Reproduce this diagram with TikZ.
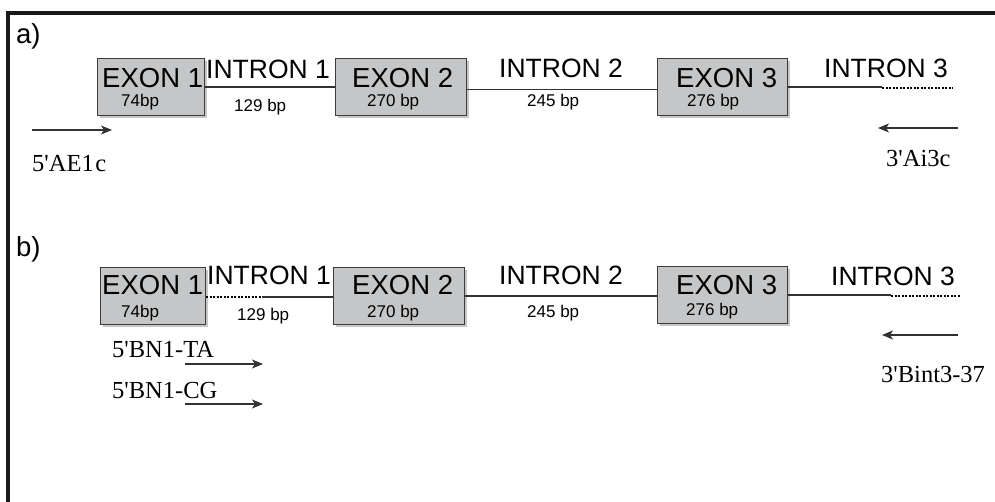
\documentclass[tikz,border=0pt]{standalone}
\usepackage{fontspec}
\setmainfont{Liberation Serif}
\newfontfamily\arialfont{Liberation Sans}
\usetikzlibrary{arrows.meta,shadows}
\definecolor{exonfill}{RGB}{196,198,200}
\definecolor{exonedge}{RGB}{60,60,60}
\definecolor{linegray}{RGB}{50,50,50}
\begin{document}
\begin{tikzpicture}[x=1pt,y=-1pt,
  exonbox/.style={draw=exonedge, fill=exonfill, line width=1.1pt, minimum width=#1, minimum height=57pt,
    anchor=north west, inner sep=0pt, general shadow={fill=black!22, shadow xshift=2pt, shadow yshift=-2pt}},
  bigtxt/.style={font=\arialfont\fontsize{27.5}{30}\selectfont, inner sep=0pt, anchor=base west},
  midtxt/.style={font=\arialfont\fontsize{26.5}{30}\selectfont, inner sep=0pt, anchor=base west},
  smalltxt/.style={font=\arialfont\fontsize{17}{18}\selectfont, inner sep=0pt, anchor=base west},
  primer/.style={font=\fontsize{24.5}{26}\selectfont, inner sep=0pt, anchor=base west},
  intron/.style={draw=linegray, line width=1.2pt},
  dotline/.style={draw=black, line width=2.6pt, dash pattern=on 2.2pt off 1.3pt},
  primerarrow/.style={draw=linegray, line width=1.4pt, -{Stealth[length=11pt,width=9pt,inset=3pt]}},
  frame/.style={draw=black!90, line width=4pt, line join=miter}
]
\useasboundingbox (0,0) rectangle (995,502);

% frame
\coordinate (fr1) at (995,13);
\coordinate (fr2) at (8,13);
\coordinate (fr3) at (8,502);
\draw[frame] (fr1) -- (fr2) -- (fr3);

% ---------------- panel a ----------------
\node[bigtxt] (alab) at (16,44) {a)};

\node[exonbox=107pt] (aE1) at (97,58) {};
\node[exonbox=131pt] (aE2) at (335,58) {};
\node[exonbox=130pt] (aE3) at (657,58) {};

\node[bigtxt] (aE1t) at (102,88) {EXON 1};
\node[bigtxt] (aE2t) at (352,88) {EXON 2};
\node[bigtxt] (aE3t) at (676,88) {EXON 3};
\node[smalltxt] (aE1b) at (121,107) {74bp};
\node[smalltxt] (aE2b) at (367,107) {270 bp};
\node[smalltxt] (aE3b) at (687,107) {276 bp};

\node[midtxt] (aI1t) at (206,79) {INTRON 1};
\node[smalltxt] (aI1b) at (234,112) {129 bp};
\node[midtxt] (aI2t) at (499,78) {INTRON 2};
\node[smalltxt] (aI2b) at (527,107) {245 bp};
\node[midtxt] (aI3t) at (824,78) {INTRON 3};

\coordinate (a3m) at (882,86);
\coordinate (a3d1) at (882,88);
\coordinate (a3d2) at (953,88);
\draw[intron] (aE1.east) -- (aE2.west);
\draw[intron] ([yshift=-2.5pt]aE2.east) -- ([yshift=-2.5pt]aE3.west);
\draw[intron] (aE3.east) -- (aE3.east -| a3m);
\draw[dotline] (a3d1) -- (a3d2);

\coordinate (aP1s) at (32,130);
\coordinate (aP1e) at (112,130);
\coordinate (aP2s) at (958,128);
\coordinate (aP2e) at (878,128);
\draw[primerarrow] (aP1s) -- (aP1e);
\draw[primerarrow] (aP2s) -- (aP2e);
\node[primer] (aP1t) at (32,172) {5\textquotesingle AE1\kern1.5pt c};
\node[primer] (aP2t) at (886,167) {3\textquotesingle Ai3c};

% ---------------- panel b ----------------
\node[bigtxt] (blab) at (16,257) {b)};

\node[exonbox=105pt] (bE1) at (100,267) {};
\node[exonbox=131pt] (bE2) at (333,267) {};
\node[exonbox=130pt] (bE3) at (657,266) {};

\node[bigtxt] (bE1t) at (102,295) {EXON 1};
\node[bigtxt] (bE2t) at (352,295) {EXON 2};
\node[bigtxt] (bE3t) at (676,295) {EXON 3};
\node[smalltxt] (bE1b) at (121,317) {74bp};
\node[smalltxt] (bE2b) at (367,317) {270 bp};
\node[smalltxt] (bE3b) at (686,316) {276 bp};

\node[midtxt] (bI1t) at (207,285) {INTRON 1};
\node[smalltxt] (bI1b) at (237,320) {129 bp};
\node[midtxt] (bI2t) at (499,285) {INTRON 2};
\node[smalltxt] (bI2b) at (527,317) {245 bp};
\node[midtxt] (bI3t) at (831,286) {INTRON 3};

\coordinate (b1m) at (262,297);
\coordinate (b3m) at (891,293);
\coordinate (b3d1) at (891,296);
\coordinate (b3d2) at (960,296);
\draw[dotline] (bE1.east |- b1m) -- (b1m);
\draw[intron] (b1m) -- (bE2.west |- b1m);
\draw[intron] (bE2.east) -- (bE3.west |- bE2.east);
\draw[intron] (bE3.east) -- (bE3.east -| b3m);
\draw[dotline] (b3d1) -- (b3d2);

\coordinate (bP1s) at (185,364);
\coordinate (bP1e) at (263,364);
\coordinate (bP2s) at (185,404);
\coordinate (bP2e) at (263,404);
\coordinate (bP3s) at (958,335);
\coordinate (bP3e) at (882,335);
\draw[primerarrow] (bP1s) -- (bP1e);
\draw[primerarrow] (bP2s) -- (bP2e);
\draw[primerarrow] (bP3s) -- (bP3e);
\node[primer] (bP1t) at (112,357) {5\textquotesingle BN1-TA};
\node[primer] (bP2t) at (112,398) {5\textquotesingle BN1-CG};
\node[primer] (bP3t) at (881,382) {3\textquotesingle Bint3-37};
\end{tikzpicture}
\end{document}
